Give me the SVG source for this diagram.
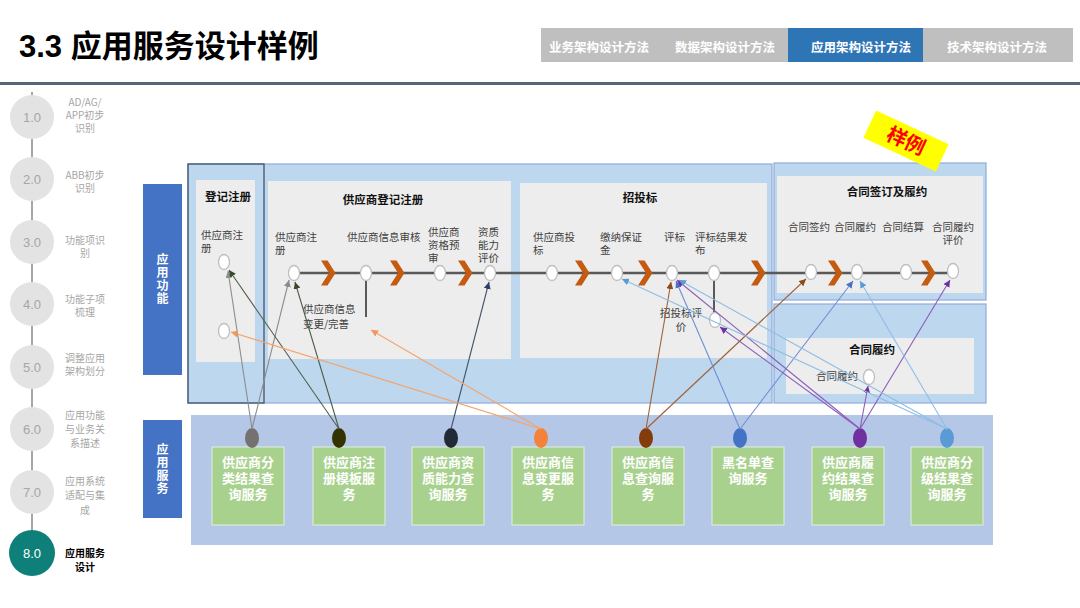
<svg xmlns="http://www.w3.org/2000/svg" width="1080" height="608" viewBox="0 0 1080 608">
<style>
.tab{font-family:"Noto Sans CJK SC",sans-serif;font-size:12.5px;font-weight:bold;fill:#fff;text-anchor:middle}
.step{fill:#e3e3e3}
.stepn{font-family:"Liberation Sans","Noto Sans CJK SC",sans-serif;font-size:13px;fill:#a6a6a6;text-anchor:middle}
.steplbl{font-family:"Noto Sans CJK SC","Liberation Sans",sans-serif;font-size:10px;fill:#a6a6a6;text-anchor:middle}
.vlbl{font-family:"Noto Sans CJK SC",sans-serif;font-size:12px;font-weight:bold;fill:#fff;text-anchor:middle;writing-mode:tb;letter-spacing:1px}
.panel{fill:#bdd7ee;stroke:#8faadc;stroke-width:1.2}
.inner{fill:#ededed}
.ttl{font-family:"Noto Sans CJK SC",sans-serif;font-size:11.5px;font-weight:bold;fill:#111;text-anchor:middle}
.lbl{font-family:"Noto Sans CJK SC",sans-serif;font-size:10.5px;fill:#404040}
.node{fill:#fff;stroke:#bfbfbf;stroke-width:1.3}
.chev{fill:#c55a11}
.svc{fill:#a9d18e;stroke:#e2efda;stroke-width:1}
.svct{font-family:"Noto Sans CJK SC",sans-serif;font-size:13px;font-weight:bold;fill:#fff;text-anchor:middle}
.c{fill:none;stroke-width:1.1}
</style>
<defs>
<marker id="mGrey" markerWidth="7" markerHeight="7" refX="7" refY="3.5" orient="auto" markerUnits="userSpaceOnUse"><path d="M0,0 L7,3.5 L0,7 z" fill="#8c8c8c"/></marker>
<marker id="mOlive" markerWidth="7" markerHeight="7" refX="7" refY="3.5" orient="auto" markerUnits="userSpaceOnUse"><path d="M0,0 L7,3.5 L0,7 z" fill="#3b4a28"/></marker>
<marker id="mNavy" markerWidth="7" markerHeight="7" refX="7" refY="3.5" orient="auto" markerUnits="userSpaceOnUse"><path d="M0,0 L7,3.5 L0,7 z" fill="#2f3f6a"/></marker>
<marker id="mOrange" markerWidth="7" markerHeight="7" refX="7" refY="3.5" orient="auto" markerUnits="userSpaceOnUse"><path d="M0,0 L7,3.5 L0,7 z" fill="#f4945a"/></marker>
<marker id="mBrown" markerWidth="7" markerHeight="7" refX="7" refY="3.5" orient="auto" markerUnits="userSpaceOnUse"><path d="M0,0 L7,3.5 L0,7 z" fill="#8a4a20"/></marker>
<marker id="mBlue" markerWidth="7" markerHeight="7" refX="7" refY="3.5" orient="auto" markerUnits="userSpaceOnUse"><path d="M0,0 L7,3.5 L0,7 z" fill="#4472c4"/></marker>
<marker id="mPurple" markerWidth="7" markerHeight="7" refX="7" refY="3.5" orient="auto" markerUnits="userSpaceOnUse"><path d="M0,0 L7,3.5 L0,7 z" fill="#7030a0"/></marker>
<marker id="mLBlue" markerWidth="7" markerHeight="7" refX="7" refY="3.5" orient="auto" markerUnits="userSpaceOnUse"><path d="M0,0 L7,3.5 L0,7 z" fill="#5b9bd5"/></marker>
<polygon id="chev" points="-7,-12.5 -0.5,-12.5 7.5,0 -0.5,12.5 -7,12.5 1,0"/>
</defs>

<rect width="1080" height="608" fill="#fff"/>

<!-- header -->
<g id="title">
<text x="19" y="57" font-family="Liberation Sans, Noto Sans CJK SC, sans-serif" font-size="31" font-weight="bold" fill="#000">3.3 <tspan font-family="Noto Sans CJK SC, sans-serif">应用服务设计样例</tspan></text>
</g>
<g id="tabs">
<rect x="541" y="28" width="532" height="34" fill="#bfbfbf"/>
<rect x="788" y="28" width="135" height="34" fill="#2e75b6"/>
<text class="tab" x="599" y="52">业务架构设计方法</text>
<text class="tab" x="725" y="52">数据架构设计方法</text>
<text class="tab" x="861" y="52">应用架构设计方法</text>
<text class="tab" x="997" y="52">技术架构设计方法</text>
</g>
<rect x="0" y="82" width="1080" height="3" fill="#56657a"/>

<!-- left steps -->
<g id="steps">
<line x1="32" y1="92" x2="32" y2="540" stroke="#a6a6a6" stroke-width="2"/>
<g id="step1"><circle class="step" cx="32" cy="117" r="22"/><text class="stepn" x="32" y="122">1.0</text>
<text class="steplbl"><tspan x="85" y="106">AD/AG/</tspan><tspan x="85" y="119">APP初步</tspan><tspan x="85" y="132">识别</tspan></text></g>
<g id="step2"><circle class="step" cx="32" cy="179" r="22"/><text class="stepn" x="32" y="184">2.0</text>
<text class="steplbl"><tspan x="85" y="179">ABB初步</tspan><tspan x="85" y="192">识别</tspan></text></g>
<g id="step3"><circle class="step" cx="32" cy="242" r="22"/><text class="stepn" x="32" y="247">3.0</text>
<text class="steplbl"><tspan x="85" y="244">功能项识</tspan><tspan x="85" y="257">别</tspan></text></g>
<g id="step4"><circle class="step" cx="32" cy="304" r="22"/><text class="stepn" x="32" y="309">4.0</text>
<text class="steplbl"><tspan x="85" y="303">功能子项</tspan><tspan x="85" y="316">梳理</tspan></text></g>
<g id="step5"><circle class="step" cx="32" cy="367" r="22"/><text class="stepn" x="32" y="372">5.0</text>
<text class="steplbl"><tspan x="85" y="362">调整应用</tspan><tspan x="85" y="375">架构划分</tspan></text></g>
<g id="step6"><circle class="step" cx="32" cy="429" r="22"/><text class="stepn" x="32" y="434">6.0</text>
<text class="steplbl"><tspan x="85" y="419">应用功能</tspan><tspan x="85" y="433">与业务关</tspan><tspan x="85" y="447">系描述</tspan></text></g>
<g id="step7"><circle class="step" cx="32" cy="492" r="22"/><text class="stepn" x="32" y="497">7.0</text>
<text class="steplbl"><tspan x="85" y="485">应用系统</tspan><tspan x="85" y="499">适配与集</tspan><tspan x="85" y="514">成</tspan></text></g>
<g id="step8"><circle cx="32" cy="553" r="23" fill="#0f7f7a"/><text class="stepn" x="32" y="558" style="fill:#fff">8.0</text>
<text class="steplbl" style="fill:#000;font-weight:bold"><tspan x="85" y="557">应用服务</tspan><tspan x="85" y="571">设计</tspan></text></g>
</g>

<!-- side labels -->
<g id="lbl-func">
<rect x="143" y="184" width="39" height="191" fill="#4472c4"/>
<text class="vlbl" x="162.5" y="279">应用功能</text>
</g>
<g id="lbl-svc">
<rect x="143" y="420" width="39" height="98" fill="#4472c4"/>
<text class="vlbl" x="162.5" y="469">应用服务</text>
</g>

<!-- function panels -->
<g id="panel-left">
<rect class="panel" x="188" y="164" width="584" height="239"/>
<rect x="188" y="164" width="76" height="239" fill="none" stroke="#44546a" stroke-width="1.3"/>
</g>
<g id="panel-contract">
<rect class="panel" x="774" y="163" width="212" height="137"/>
</g>
<g id="panel-perform">
<rect class="panel" x="774" y="304" width="212" height="99"/>
</g>

<g id="grp-register">
<rect class="inner" x="196" y="180" width="59" height="182"/>
<text class="ttl" x="228" y="201">登记注册</text>
<text class="lbl"><tspan x="201" y="239">供应商注</tspan><tspan x="201" y="252">册</tspan></text>
</g>
<g id="grp-supplier">
<rect class="inner" x="268" y="181" width="243" height="178"/>
<text class="ttl" x="383" y="204">供应商登记注册</text>
<text class="lbl"><tspan x="275" y="241">供应商注</tspan><tspan x="275" y="254">册</tspan></text>
<text class="lbl" x="347" y="241">供应商信息审核</text>
<text class="lbl"><tspan x="428" y="236">供应商</tspan><tspan x="428" y="249">资格预</tspan><tspan x="428" y="262">审</tspan></text>
<text class="lbl"><tspan x="478" y="236">资质</tspan><tspan x="478" y="249">能力</tspan><tspan x="478" y="262">评价</tspan></text>
<text class="lbl"><tspan x="303" y="313">供应商信息</tspan><tspan x="303" y="328">变更/完善</tspan></text>
</g>
<g id="grp-bid">
<rect class="inner" x="520" y="183" width="247" height="175"/>
<text class="ttl" x="640" y="202">招投标</text>
<text class="lbl"><tspan x="533" y="241">供应商投</tspan><tspan x="533" y="254">标</tspan></text>
<text class="lbl"><tspan x="600" y="241">缴纳保证</tspan><tspan x="600" y="254">金</tspan></text>
<text class="lbl" x="664" y="241">评标</text>
<text class="lbl"><tspan x="695" y="241">评标结果发</tspan><tspan x="695" y="254">布</tspan></text>
<text class="lbl" text-anchor="middle"><tspan x="681" y="317">招投标评</tspan><tspan x="681" y="331">价</tspan></text>
</g>
<g id="grp-contract">
<rect class="inner" x="777" y="176" width="206" height="117"/>
<text class="ttl" x="887" y="196">合同签订及履约</text>
<text class="lbl" x="788" y="231">合同签约</text>
<text class="lbl" x="834" y="231">合同履约</text>
<text class="lbl" x="882" y="231">合同结算</text>
<text class="lbl"><tspan x="932" y="231">合同履约</tspan><tspan x="942.5" y="244">评价</tspan></text>
</g>
<g id="grp-perform">
<rect class="inner" x="786" y="338" width="188" height="56"/>
<text class="ttl" x="872" y="354">合同履约</text>
<text class="lbl" x="816" y="380">合同履约</text>
</g>

<!-- process flow line -->
<g id="flow">
<line x1="294" y1="273" x2="953" y2="273" stroke="#595959" stroke-width="2.5"/>
<line x1="366" y1="273" x2="366" y2="317" stroke="#595959" stroke-width="2"/>
<line x1="714" y1="273" x2="714" y2="320" stroke="#595959" stroke-width="2"/>
<use href="#chev" class="chev" x="328" y="273"/>
<use href="#chev" class="chev" x="397" y="273"/>
<use href="#chev" class="chev" x="465" y="273"/>
<use href="#chev" class="chev" x="582" y="273"/>
<use href="#chev" class="chev" x="645" y="273"/>
<use href="#chev" class="chev" x="758" y="273"/>
<use href="#chev" class="chev" x="835" y="273"/>
<use href="#chev" class="chev" x="928" y="273"/>
</g>

<!-- function nodes -->
<g id="fn-nodes">
<ellipse id="n-reg1" class="node" cx="224" cy="262" rx="5.5" ry="7.5"/>
<ellipse id="n-reg2" class="node" cx="224" cy="331" rx="5.5" ry="7.5"/>
<ellipse id="n-sreg" class="node" cx="294" cy="273" rx="5.5" ry="7.5"/>
<ellipse id="n-audit" class="node" cx="366" cy="273" rx="5.5" ry="7.5"/>
<ellipse id="n-pre" class="node" cx="440" cy="273" rx="5.5" ry="7.5"/>
<ellipse id="n-eval" class="node" cx="490" cy="273" rx="5.5" ry="7.5"/>
<ellipse id="n-bid" class="node" cx="552" cy="273" rx="5.5" ry="7.5"/>
<ellipse id="n-dep" class="node" cx="617" cy="273" rx="5.5" ry="7.5"/>
<ellipse id="n-judge" class="node" cx="672" cy="273" rx="5.5" ry="7.5"/>
<ellipse id="n-pub" class="node" cx="714" cy="273" rx="5.5" ry="7.5"/>
<ellipse id="n-bideval" class="node" cx="715" cy="320" rx="5.5" ry="7.5"/>
<ellipse id="n-sign" class="node" cx="811" cy="272" rx="5.5" ry="7.5"/>
<ellipse id="n-perf" class="node" cx="857" cy="272" rx="5.5" ry="7.5"/>
<ellipse id="n-settle" class="node" cx="906" cy="272" rx="5.5" ry="7.5"/>
<ellipse id="n-perfeval" class="node" cx="953" cy="271" rx="5.5" ry="7.5"/>
<ellipse id="n-perf2" class="node" cx="869" cy="377" rx="5.5" ry="7.5"/>
</g>

<!-- services -->
<g id="svc-area"><rect x="191" y="415" width="802" height="130" fill="#b4c7e7"/></g>
<g id="svc1"><rect class="svc" x="212" y="447" width="72" height="78"/><ellipse cx="252" cy="438" rx="7" ry="10" fill="#767171"/>
<text class="svct"><tspan x="248" y="467">供应商分</tspan><tspan x="248" y="483">类结果查</tspan><tspan x="248" y="499">询服务</tspan></text></g>
<g id="svc2"><rect class="svc" x="313" y="447" width="72" height="78"/><ellipse cx="339" cy="438" rx="7" ry="10" fill="#333300"/>
<text class="svct"><tspan x="349" y="467">供应商注</tspan><tspan x="349" y="483">册模板服</tspan><tspan x="349" y="499">务</tspan></text></g>
<g id="svc3"><rect class="svc" x="412" y="447" width="72" height="78"/><ellipse cx="451" cy="438" rx="7" ry="10" fill="#222a35"/>
<text class="svct"><tspan x="448" y="467">供应商资</tspan><tspan x="448" y="483">质能力查</tspan><tspan x="448" y="499">询服务</tspan></text></g>
<g id="svc4"><rect class="svc" x="512" y="447" width="72" height="78"/><ellipse cx="541" cy="438" rx="7" ry="10" fill="#f4823a"/>
<text class="svct"><tspan x="548" y="467">供应商信</tspan><tspan x="548" y="483">息变更服</tspan><tspan x="548" y="499">务</tspan></text></g>
<g id="svc5"><rect class="svc" x="612" y="447" width="72" height="78"/><ellipse cx="646" cy="438" rx="7" ry="10" fill="#843c0c"/>
<text class="svct"><tspan x="648" y="467">供应商信</tspan><tspan x="648" y="483">息查询服</tspan><tspan x="648" y="499">务</tspan></text></g>
<g id="svc6"><rect class="svc" x="712" y="447" width="72" height="78"/><ellipse cx="740" cy="438" rx="7" ry="10" fill="#4472c4"/>
<text class="svct"><tspan x="748" y="467">黑名单查</tspan><tspan x="748" y="483">询服务</tspan></text></g>
<g id="svc7"><rect class="svc" x="812" y="447" width="72" height="78"/><ellipse cx="860" cy="438" rx="7" ry="10" fill="#7030a0"/>
<text class="svct"><tspan x="848" y="467">供应商履</tspan><tspan x="848" y="483">约结果查</tspan><tspan x="848" y="499">询服务</tspan></text></g>
<g id="svc8"><rect class="svc" x="911" y="447" width="72" height="78"/><ellipse cx="947" cy="438" rx="7" ry="10" fill="#5b9bd5"/>
<text class="svct"><tspan x="947" y="467">供应商分</tspan><tspan x="947" y="483">级结果查</tspan><tspan x="947" y="499">询服务</tspan></text></g>

<!-- connectors -->
<g id="connectors">
<line class="c" x1="252" y1="429" x2="228" y2="271" stroke="#8c8c8c" marker-end="url(#mGrey)"/>
<line class="c" x1="252" y1="429" x2="289" y2="280" stroke="#8c8c8c" marker-end="url(#mGrey)"/>
<line class="c" x1="339" y1="429" x2="229" y2="270" stroke="#4e5e48" marker-end="url(#mOlive)"/>
<line class="c" x1="339" y1="429" x2="295" y2="282" stroke="#4e5e48" marker-end="url(#mOlive)"/>
<line class="c" x1="451" y1="429" x2="489" y2="282" stroke="#44546a" marker-end="url(#mNavy)"/>
<line class="c" x1="541" y1="429" x2="231" y2="332" stroke="#f4a46a" marker-end="url(#mOrange)"/>
<line class="c" x1="541" y1="429" x2="371" y2="330" stroke="#f4a46a" marker-end="url(#mOrange)"/>
<line class="c" x1="646" y1="429" x2="671" y2="282" stroke="#a0603a" marker-end="url(#mBrown)"/>
<line class="c" x1="646" y1="429" x2="806" y2="279" stroke="#a0603a" marker-end="url(#mBrown)"/>
<line class="c" x1="740" y1="429" x2="676" y2="281" stroke="#6f8fd6" marker-end="url(#mBlue)"/>
<line class="c" x1="740" y1="429" x2="853" y2="281" stroke="#6f8fd6" marker-end="url(#mBlue)"/>
<line class="c" x1="860" y1="429" x2="677" y2="280" stroke="#8a5cb8" marker-end="url(#mPurple)"/>
<line class="c" x1="860" y1="429" x2="720" y2="327" stroke="#8a5cb8" marker-end="url(#mPurple)"/>
<line class="c" x1="860" y1="429" x2="868" y2="386" stroke="#8a5cb8" marker-end="url(#mPurple)"/>
<line class="c" x1="860" y1="429" x2="950" y2="280" stroke="#8a5cb8" marker-end="url(#mPurple)"/>
<line class="c" x1="947" y1="429" x2="622" y2="279" stroke="#8dbde6" marker-end="url(#mLBlue)"/>
<line class="c" x1="947" y1="429" x2="679" y2="280" stroke="#8dbde6" marker-end="url(#mLBlue)"/>
<line class="c" x1="947" y1="429" x2="860" y2="281" stroke="#8dbde6" marker-end="url(#mLBlue)"/>
</g>

<!-- sample tag -->
<g id="sample-tag" transform="translate(906,141) rotate(25)">
<rect x="-40" y="-15" width="80" height="30" fill="#ffff00"/>
<text x="0" y="7" font-family="Noto Sans CJK SC, sans-serif" font-size="20" font-weight="bold" fill="#ff0000" text-anchor="middle">样例</text>
</g>
</svg>
